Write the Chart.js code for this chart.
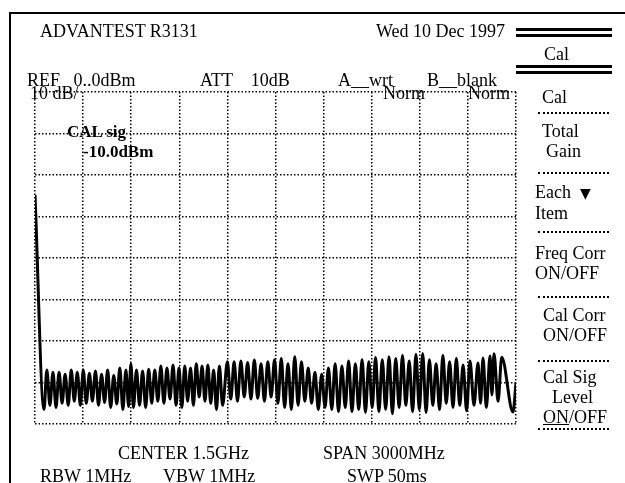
<!DOCTYPE html>
<html>
<head>
<meta charset="utf-8">
<script src="https://cdn.jsdelivr.net/npm/chart.js@4/dist/chart.umd.min.js"></script>
<style>
  body { margin: 0; background: #fff; }
  #wrap { position: relative; width: 625px; height: 483px; overflow: hidden; background: #fff;
          font-family: 'Liberation Serif', 'Times New Roman', serif; font-size: 18px; color: #000; }
  #chart { position: absolute; left: 0; top: 0; }
  .t { position: absolute; line-height: 18px; white-space: pre; }
  .b { font-weight: bold; font-size: 17px; }
  .box { position: absolute; left: 9px; top: 12px; width: 700px; height: 600px; border: 2px solid #000; }
  .dbl { position: absolute; left: 516px; width: 96px; height: 3px; background: #000; }
  .sep { position: absolute; left: 538px; width: 71px; border-top: 2px dotted #000; }
</style>
</head>
<body>
<div id="wrap">
  <div class="box"></div>
  <canvas id="chart" width="625" height="483"></canvas>

  <div class="t" style="left:40px;top:22px">ADVANTEST R3131</div>
  <div class="t" style="left:376px;top:22px">Wed 10 Dec 1997</div>

  <div class="dbl" style="top:28px"></div>
  <div class="dbl" style="top:34px"></div>
  <div class="t" style="left:544px;top:45px">Cal</div>
  <div class="dbl" style="top:65px"></div>
  <div class="dbl" style="top:71px"></div>

  <div class="t" style="left:27px;top:71px">REF   0..0dBm</div>
  <div class="t" style="left:200px;top:71px">ATT    10dB</div>
  <div class="t" style="left:338px;top:71px">A__wrt</div>
  <div class="t" style="left:427px;top:71px">B__blank</div>

  <div class="t" style="left:30px;top:84px">10 dB/</div>
  <div class="t" style="left:383px;top:84px">Norm</div>
  <div class="t" style="left:468px;top:84px">Norm</div>
  <div class="t" style="left:542px;top:88px">Cal</div>

  <div class="sep" style="top:112px"></div>
  <div class="t" style="left:542px;top:122px">Total</div>
  <div class="t" style="left:546px;top:142px">Gain</div>
  <div class="sep" style="top:172px"></div>
  <div class="t" style="left:535px;top:183px">Each  <span style="font-family:'DejaVu Sans';font-size:14px">▼</span></div>
  <div class="t" style="left:535px;top:204px">Item</div>
  <div class="sep" style="top:231px"></div>
  <div class="t" style="left:535px;top:244px">Freq Corr</div>
  <div class="t" style="left:535px;top:264px">ON/OFF</div>
  <div class="sep" style="top:296px"></div>
  <div class="t" style="left:543px;top:306px">Cal Corr</div>
  <div class="t" style="left:543px;top:326px">ON/OFF</div>
  <div class="sep" style="top:360px"></div>
  <div class="t" style="left:543px;top:368px">Cal Sig</div>
  <div class="t" style="left:552px;top:388px">Level</div>
  <div class="t" style="left:543px;top:408px"><u>ON</u>/OFF</div>
  <div class="sep" style="top:428px"></div>

  <div class="t b" style="left:67px;top:123px">CAL sig</div>
  <div class="t b" style="left:83px;top:143px">-10.0dBm</div>

  <div class="t" style="left:118px;top:444px">CENTER 1.5GHz</div>
  <div class="t" style="left:323px;top:444px">SPAN 3000MHz</div>
  <div class="t" style="left:40px;top:467px">RBW 1MHz</div>
  <div class="t" style="left:163px;top:467px">VBW 1MHz</div>
  <div class="t" style="left:347px;top:467px">SWP 50ms</div>
</div>

<script>
// sweep: 0 .. 3000 MHz, ref 0 dBm, 10 dB/div
const spanStartMHz = 0;
const spanStopMHz = 3000;
const mhzPerDiv = 300;
const refLevelDbm = 0;
const bottomLevelDbm = -80;
const dbPerDiv = 10;

// trace (peaks / valleys)
const traceFreqMHz = [
  0, 56, 74, 93, 112, 131, 150, 169, 188, 207, 226, 245, 264, 283,
  301, 320, 339, 358, 377, 396, 415, 434, 453, 472, 491, 510, 529, 548, 567, 584, 598,
  614, 633, 652, 671, 690, 709, 728, 747, 766, 785, 804, 823, 842, 861, 880, 898,
  916, 934, 952, 970, 988, 1006, 1024, 1042, 1060, 1078, 1096, 1114, 1132, 1150, 1170,
  1200, 1221, 1242, 1263, 1284, 1305, 1326, 1347, 1368, 1389, 1410, 1431, 1452, 1473, 1494,
  1515, 1536, 1557, 1578, 1599, 1620, 1641, 1662, 1683, 1704, 1725, 1746, 1767, 1788, 1809,
  1830, 1851, 1872, 1893, 1914, 1935, 1956, 1977, 1998, 2019, 2040, 2061, 2082, 2103,
  2124, 2145, 2166, 2187, 2208, 2229, 2250, 2271, 2292, 2313, 2334, 2355, 2376, 2397,
  2418, 2439, 2460, 2481, 2502, 2523, 2544, 2565, 2586, 2607, 2628, 2649, 2670, 2692,
  2713, 2738, 2763, 2779, 2794, 2815, 2838, 2850, 2863, 2888, 2911, 2981, 3000
];
const traceLevelDbm = [
  -24.8, -76.5, -67.0, -75.5, -67.5, -76.0, -67.5, -75.0, -68.0, -75.5, -67.0, -74.5, -67.5, -75.5,
  -67.0, -75.0, -67.8, -74.5, -67.2, -75.5, -68.0, -74.8, -67.0, -76.0, -68.3, -75.2, -66.5, -76.5, -67.0, -75.8, -65.5,
  -76.0, -67.0, -75.5, -67.2, -76.0, -66.8, -75.0, -67.0, -74.5, -66.0, -75.0, -66.5, -74.0, -65.8, -75.5, -66.5,
  -76.0, -66.0, -74.5, -66.5, -75.5, -65.5, -73.5, -66.0, -74.5, -65.8, -75.0, -67.0, -76.5, -66.0, -75.5,
  -65.0, -74.0, -65.0, -74.5, -64.8, -73.5, -65.2, -74.0, -64.6, -73.8, -65.5, -74.5, -65.0, -73.5, -64.5,
  -75.0, -64.2, -76.0, -65.5, -76.5, -63.8, -75.5, -65.0, -74.5, -66.5, -75.0, -67.5, -76.5, -68.0, -76.0,
  -66.5, -76.5, -65.5, -77.0, -66.0, -76.0, -64.8, -77.0, -65.5, -76.5, -64.5, -77.2, -65.0, -76.0,
  -64.0, -77.0, -64.5, -76.5, -63.8, -77.5, -64.2, -76.0, -63.5, -75.5, -64.8, -77.0, -63.2, -76.5,
  -63.0, -77.2, -64.5, -75.5, -65.5, -76.5, -63.5, -75.0, -65.0, -76.0, -64.2, -75.5, -65.8, -76.8,
  -64.8, -75.5, -65.3, -75.0, -64.1, -76.0, -63.6, -73.0, -63.1, -74.5, -63.9, -77.1, -70.1
];

var points = [];
traceFreqMHz.forEach(function (f, i) {
  points.push({ x: f, y: traceLevelDbm[i] });
});

const gridDash = [1.5, 2];

var ctx = document.getElementById('chart');
var chart = new Chart(ctx, {
  type: 'line',
  data: {
    datasets: [{
      data: points,
      borderColor: '#000',
      borderWidth: 3,
      pointRadius: 0,
      cubicInterpolationMode: 'monotone',
      fill: false
    }]
  },
  options: {
    responsive: false,
    animation: false,
    devicePixelRatio: 1,
    layout: { padding: { left: 35, right: 109, top: 92, bottom: 59 } },
    plugins: { legend: { display: false }, tooltip: { enabled: false } },
    scales: {
      x: {
        type: 'linear', min: spanStartMHz, max: spanStopMHz,
        ticks: { display: false, stepSize: mhzPerDiv },
        grid: { color: '#000', lineWidth: 1.5, drawTicks: false },
        border: { display: false, dash: gridDash }
      },
      y: {
        type: 'linear', min: bottomLevelDbm, max: refLevelDbm,
        ticks: { display: false, stepSize: dbPerDiv },
        grid: { color: '#000', lineWidth: 1.5, drawTicks: false },
        border: { display: false, dash: gridDash }
      }
    }
  }
});
</script>
</body>
</html>
